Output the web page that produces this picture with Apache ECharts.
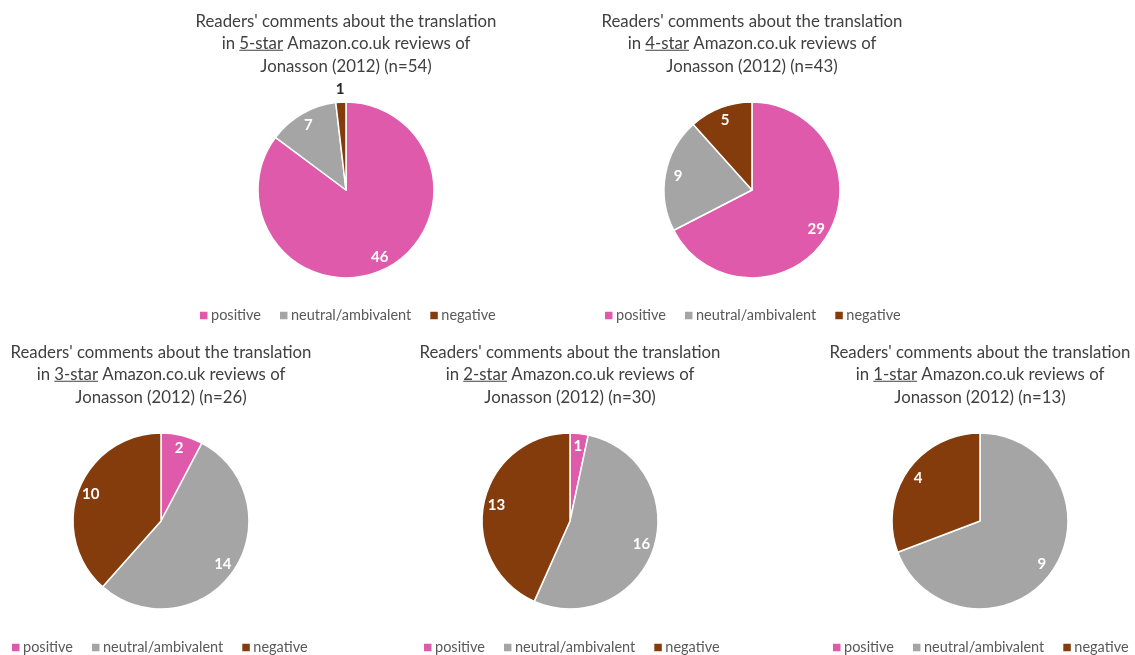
<!DOCTYPE html>
<html><head><meta charset="utf-8">
<script src="https://cdn.jsdelivr.net/npm/echarts@6/dist/echarts.min.js"></script>
<style>html,body{margin:0;padding:0;background:#fff}#c{width:1135px;height:655px}</style>
</head><body><div id="c"></div>
<script>
// ---- data ----
const categories = ['positive', 'neutral/ambivalent', 'negative'];
const starRatings = ['5-star', '4-star', '3-star', '2-star', '1-star'];
const sampleSizes = [54, 43, 26, 30, 13];
const stars5 = [46, 7, 1];
const stars4 = [29, 9, 5];
const stars3 = [2, 14, 10];
const stars2 = [1, 16, 13];
const stars1 = [0, 9, 4];
const seriesValues = [stars5, stars4, stars3, stars2, stars1];

// ---- style / layout ----
const colors = ['#E05AAB', '#A5A5A5', '#843C0C'];
const FONT = 'Lato';
const TITLE_SIZE = 16.8;
const LINE_H = 22.5;
const R = 88;
const panels = [
  { cx: 346, cy: 190, titleTop: 10, legendLeft: 200, legendTop: 308 },
  { cx: 752, cy: 190, titleTop: 10, legendLeft: 605, legendTop: 308 },
  { cx: 161, cy: 521, titleTop: 341, legendLeft: 12, legendTop: 640 },
  { cx: 570, cy: 521, titleTop: 341, legendLeft: 424, legendTop: 640 },
  { cx: 980, cy: 521, titleTop: 341, legendLeft: 833, legendTop: 640 }
];

const ctx = document.createElement('canvas').getContext('2d');
ctx.font = TITLE_SIZE + 'px ' + FONT;
const measure = s => ctx.measureText(s).width;

const titles = [], legends = [], series = [], underlines = [];
panels.forEach((p, k) => {
  const star = starRatings[k];
  const line2 = 'in ' + star + ' Amazon.co.uk reviews of';
  titles.push({
    text: "Readers' comments about the translation\n" + line2 + '\nJonasson (2012) (n=' + sampleSizes[k] + ')',
    left: p.cx, top: p.titleTop, textAlign: 'center', padding: 0,
    textStyle: { fontFamily: FONT, fontSize: TITLE_SIZE, fontWeight: 'normal', color: '#404040', lineHeight: LINE_H }
  });
  const w = measure(line2), pre = measure('in '), ws = measure(star);
  const x0 = p.cx - w / 2 + pre;
  const y = p.titleTop + LINE_H * 1.5 + 6.5;
  underlines.push({ type: 'line', silent: true, shape: { x1: x0, y1: y, x2: x0 + ws, y2: y }, style: { stroke: '#404040', lineWidth: 1 } });

  legends.push({
    data: categories, left: p.legendLeft, top: p.legendTop, width: 330, padding: 0,
    icon: 'rect', itemWidth: 7.5, itemHeight: 7.5, itemGap: 19, selectedMode: false,
    itemStyle: { borderWidth: 0 },
    textStyle: { fontFamily: FONT, fontSize: 14.5, color: '#595959', padding: [0, 0, 0, -1.5] }
  });
  const vals = seriesValues[k];
  const data = categories.map((c, i) => ({ name: c, value: vals[i], itemStyle: { color: colors[i] } }));
  const total = vals.reduce((a, b) => a + b, 0);
  series.push({
    type: 'pie', center: [p.cx, p.cy], radius: R, startAngle: 90, clockwise: true,
    label: { show: false }, labelLine: { show: false },
    itemStyle: { borderColor: '#fff', borderWidth: 1.5 },
    emphasis: { disabled: true }, data: data
  });
  const ghost = categories.map((c, i) => ({ name: c, value: vals[i], itemStyle: { color: 'rgba(0,0,0,0)' } }));
  series.push({
    type: 'pie', center: [p.cx, p.cy], radius: [R * 0.64, R], startAngle: 90, clockwise: true,
    silent: true, legendHoverLink: false, emphasis: { disabled: true },
    label: { show: true, position: 'inside', fontFamily: FONT, fontSize: 15, fontWeight: 'bold', color: '#fff',
      formatter: q => (q.value > 0 && q.value / total >= 0.025) ? String(q.value) : '' },
    labelLine: { show: false }, data: ghost
  });
  series.push({
    type: 'pie', center: [p.cx, p.cy], radius: [R, R * 1.22], startAngle: 90, clockwise: true,
    silent: true, legendHoverLink: false, emphasis: { disabled: true },
    label: { show: true, position: 'inside', fontFamily: FONT, fontSize: 15, fontWeight: 'bold', color: '#262626',
      formatter: q => (q.value > 0 && q.value / total < 0.025) ? String(q.value) : '' },
    labelLine: { show: false }, data: ghost
  });
});

const chart = echarts.init(document.getElementById('c'), null, { renderer: 'canvas' });
chart.setOption({
  backgroundColor: '#fff', animation: false,
  title: titles, legend: legends, series: series,
  graphic: underlines
});
</script></body></html>
